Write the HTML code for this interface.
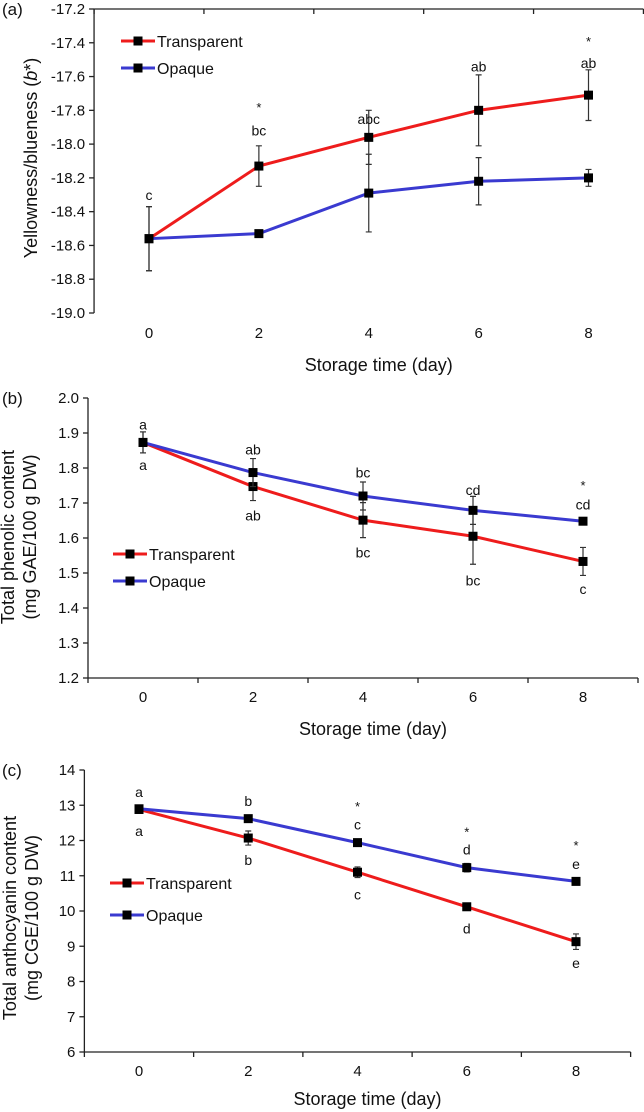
<!DOCTYPE html>
<html><head><meta charset="utf-8">
<style>
html,body{margin:0;padding:0;background:#fff;}
svg{display:block;font-family:"Liberation Sans",Arial,sans-serif;}
</style></head>
<body>
<svg id="fig" width="644" height="1112" viewBox="0 0 644 1112"></svg>
<script>
const days = [0, 2, 4, 6, 8];
// Panel a
const aTransparent = [-18.56, -18.13, -17.96, -17.80, -17.71];
const aTransparentErr = [0.19, 0.12, 0.16, 0.21, 0.15];
const aOpaque = [-18.56, -18.53, -18.29, -18.22, -18.20];
const aOpaqueErr = [0.19, 0.01, 0.23, 0.14, 0.05];
const aTicks = [-19.0, -18.8, -18.6, -18.4, -18.2, -18.0, -17.8, -17.6, -17.4, -17.2];
const aLetters = [["c", 0, -18.30], ["*", 2, -17.78], ["bc", 2, -17.92], ["abc", 4, -17.85], ["ab", 6, -17.54], ["*", 8, -17.39], ["ab", 8, -17.52]];
// Panel b
const bTransparent = [1.873, 1.747, 1.651, 1.605, 1.533];
const bTransparentErr = [0.03, 0.04, 0.05, 0.08, 0.04];
const bOpaque = [1.873, 1.787, 1.720, 1.679, 1.648];
const bOpaqueErr = [0.03, 0.04, 0.04, 0.04, 0.005];
const bTicks = [1.2, 1.3, 1.4, 1.5, 1.6, 1.7, 1.8, 1.9, 2.0];
const bLetters = [["a", 0, 1.925], ["a", 0, 1.808], ["ab", 2, 1.853], ["ab", 2, 1.664], ["bc", 4, 1.787], ["bc", 4, 1.559], ["cd", 6, 1.737], ["bc", 6, 1.478], ["*", 8, 1.752], ["cd", 8, 1.696], ["c", 8, 1.454]];
// Panel c
const cTransparent = [12.88, 12.07, 11.10, 10.12, 9.13];
const cTransparentErr = [0.1, 0.2, 0.15, 0.05, 0.22];
const cOpaque = [12.90, 12.62, 11.94, 11.23, 10.84];
const cOpaqueErr = [0.05, 0.05, 0.05, 0.12, 0.05];
const cTicks = [6, 7, 8, 9, 10, 11, 12, 13, 14];
const cLetters = [["a", 0, 13.38], ["a", 0, 12.27], ["b", 2, 13.12], ["b", 2, 11.44], ["*", 4, 12.98], ["c", 4, 12.45], ["c", 4, 10.47], ["*", 6, 12.25], ["d", 6, 11.74], ["d", 6, 9.50], ["*", 8, 11.87], ["e", 8, 11.34], ["e", 8, 8.52]];

const NS = "http://www.w3.org/2000/svg";
const svg = document.getElementById("fig");
function mk(tag, attrs, parent, txt) {
  const e = document.createElementNS(NS, tag);
  for (const k in attrs) e.setAttribute(k, attrs[k]);
  if (txt !== undefined) e.textContent = txt;
  (parent || svg).appendChild(e);
  return e;
}

function panel(p) {
  const g = mk("g", {});
  
  
  const ymin = p.ticks[0], ymax = p.ticks[p.ticks.length - 1];
  const X = d => p.x0 + (p.x8 - p.x0) * d / 8;
  const Y = v => p.yBot - (v - ymin) / (ymax - ymin) * (p.yBot - p.yTop);
  const xLeft = X(-1), xRight = X(9);
  // y axis
  const ya = mk("line", {x1: xLeft, y1: p.yTop, x2: xLeft, y2: p.yBot, stroke: "#222", "stroke-width": 1.3}, g);
  
  
  p.ticks.forEach(t => {
    mk("line", {x1: xLeft - 5, y1: Y(t), x2: xLeft, y2: Y(t), stroke: "#222", "stroke-width": 1.3}, g);
    const tl = mk("text", {x: xLeft - 9, y: Y(t) + 5, "font-size": 15, "text-anchor": "end", fill: "#111"}, g, t.toFixed(p.dec));
    
    
  });
  // x axis (top for panel a)
  const xy = p.topAxis ? p.yTop : p.yBot;
  const xa = mk("line", {x1: xLeft, y1: xy, x2: xRight, y2: xy, stroke: "#222", "stroke-width": 1.3}, g);
  
  
  for (let d = -1; d <= 9; d += 2) {
    mk("line", {x1: X(d), y1: xy, x2: X(d), y2: p.topAxis ? xy + 5 : xy + 5, stroke: "#222", "stroke-width": 1.3}, g);
  }
  days.forEach(d => {
    const tl = mk("text", {x: X(d), y: p.xLabY, "font-size": 15, "text-anchor": "middle", fill: "#111"}, g, String(d));
    
    
  });
  const xt = mk("text", {x: (xLeft + xRight) / 2 + 10, y: p.xTitleY, "font-size": 18, "text-anchor": "middle", fill: "#111"}, g, "Storage time (day)");
  
  
  const pl = mk("text", {x: 2, y: p.yTop + 6, "font-size": 17, fill: "#111"}, g, p.label);
  
  
  // y title
  p.yTitle.forEach((line, i) => {
    const yt = mk("text", {x: 0, y: 0, "font-size": 18, "text-anchor": "middle", fill: "#111",
      transform: "translate(" + p.yTitleX[i] + "," + p.yTitleMid + ") rotate(-90)"}, g);
    
    
    if (line.html) { yt.innerHTML = line.html; } else { yt.textContent = line; }
  });
  // series
  const series = [[p.trans, p.transErr, "#ee1c1c", "transparent"], [p.opq, p.opqErr, "#3a3ad0", "opaque"]];
  series.forEach(([vals, errs, col, nm]) => {
    const path = mk("polyline", {points: vals.map((v, i) => X(days[i]) + "," + Y(v)).join(" "), fill: "none", stroke: col, "stroke-width": 3}, g);
    
    
  });
  series.forEach(([vals, errs, col, nm]) => {
    vals.forEach((v, i) => {
      const x = X(days[i]);
      const eb = mk("path", {d: "M" + (x - 3) + "," + Y(v + errs[i]) + "h6M" + x + "," + Y(v + errs[i]) + "V" + Y(v - errs[i]) + "M" + (x - 3) + "," + Y(v - errs[i]) + "h6", stroke: "#333", "stroke-width": 1.2, fill: "none"}, g);
      
      
      const m = mk("rect", {x: x - 4.5, y: Y(v) - 4.5, width: 9, height: 9, fill: "#000"}, g);
      
      
    });
  });
  p.letters.forEach(([t, d, v]) => {
    const lt = mk("text", {x: X(d), y: Y(v) + 5, "font-size": t === "*" ? 13 : 14, "text-anchor": "middle", fill: "#111"}, g, t);
    
    
  });
  // legend
  [["Transparent", "#ee1c1c", 0], ["Opaque", "#3a3ad0", 1]].forEach(([nm, col, i]) => {
    const ly = p.legY[i];
    const lg = mk("g", {}, g);
    
    
    mk("line", {x1: p.legX, y1: ly, x2: p.legX + 34, y2: ly, stroke: col, "stroke-width": 3}, lg);
    mk("rect", {x: p.legX + 12.5, y: ly - 4.5, width: 9, height: 9, fill: "#000"}, lg);
    mk("text", {x: p.legX + 36, y: ly + 6, "font-size": 16, fill: "#111"}, lg, nm);
  });
}

panel({name: "panel-a-yellowness", label: "(a)", x0: 149, x8: 588.5, yTop: 9, yBot: 313, ticks: aTicks, dec: 1, topAxis: true,
  xLabY: 338, xTitleY: 371, yTitle: [{html: 'Yellowness/blueness (<tspan font-style="italic">b</tspan>*)'}], yTitleX: [37], yTitleMid: 158,
  trans: aTransparent, transErr: aTransparentErr, opq: aOpaque, opqErr: aOpaqueErr, letters: aLetters, legX: 121, legY: [41, 68]});
panel({name: "panel-b-phenolic", label: "(b)", x0: 143, x8: 583, yTop: 398, yBot: 678, ticks: bTicks, dec: 1, topAxis: false,
  xLabY: 702, xTitleY: 735, yTitle: ["Total phenolic content", "(mg GAE/100 g DW)"], yTitleX: [14, 36], yTitleMid: 537,
  trans: bTransparent, transErr: bTransparentErr, opq: bOpaque, opqErr: bOpaqueErr, letters: bLetters, legX: 113, legY: [554, 581]});
panel({name: "panel-c-anthocyanin", label: "(c)", x0: 139, x8: 576, yTop: 770, yBot: 1052, ticks: cTicks, dec: 0, topAxis: false,
  xLabY: 1076, xTitleY: 1105, yTitle: ["Total anthocyanin content", "(mg CGE/100 g DW)"], yTitleX: [16, 38], yTitleMid: 918,
  trans: cTransparent, transErr: cTransparentErr, opq: cOpaque, opqErr: cOpaqueErr, letters: cLetters, legX: 110, legY: [883, 915]});
</script>
</body></html>
